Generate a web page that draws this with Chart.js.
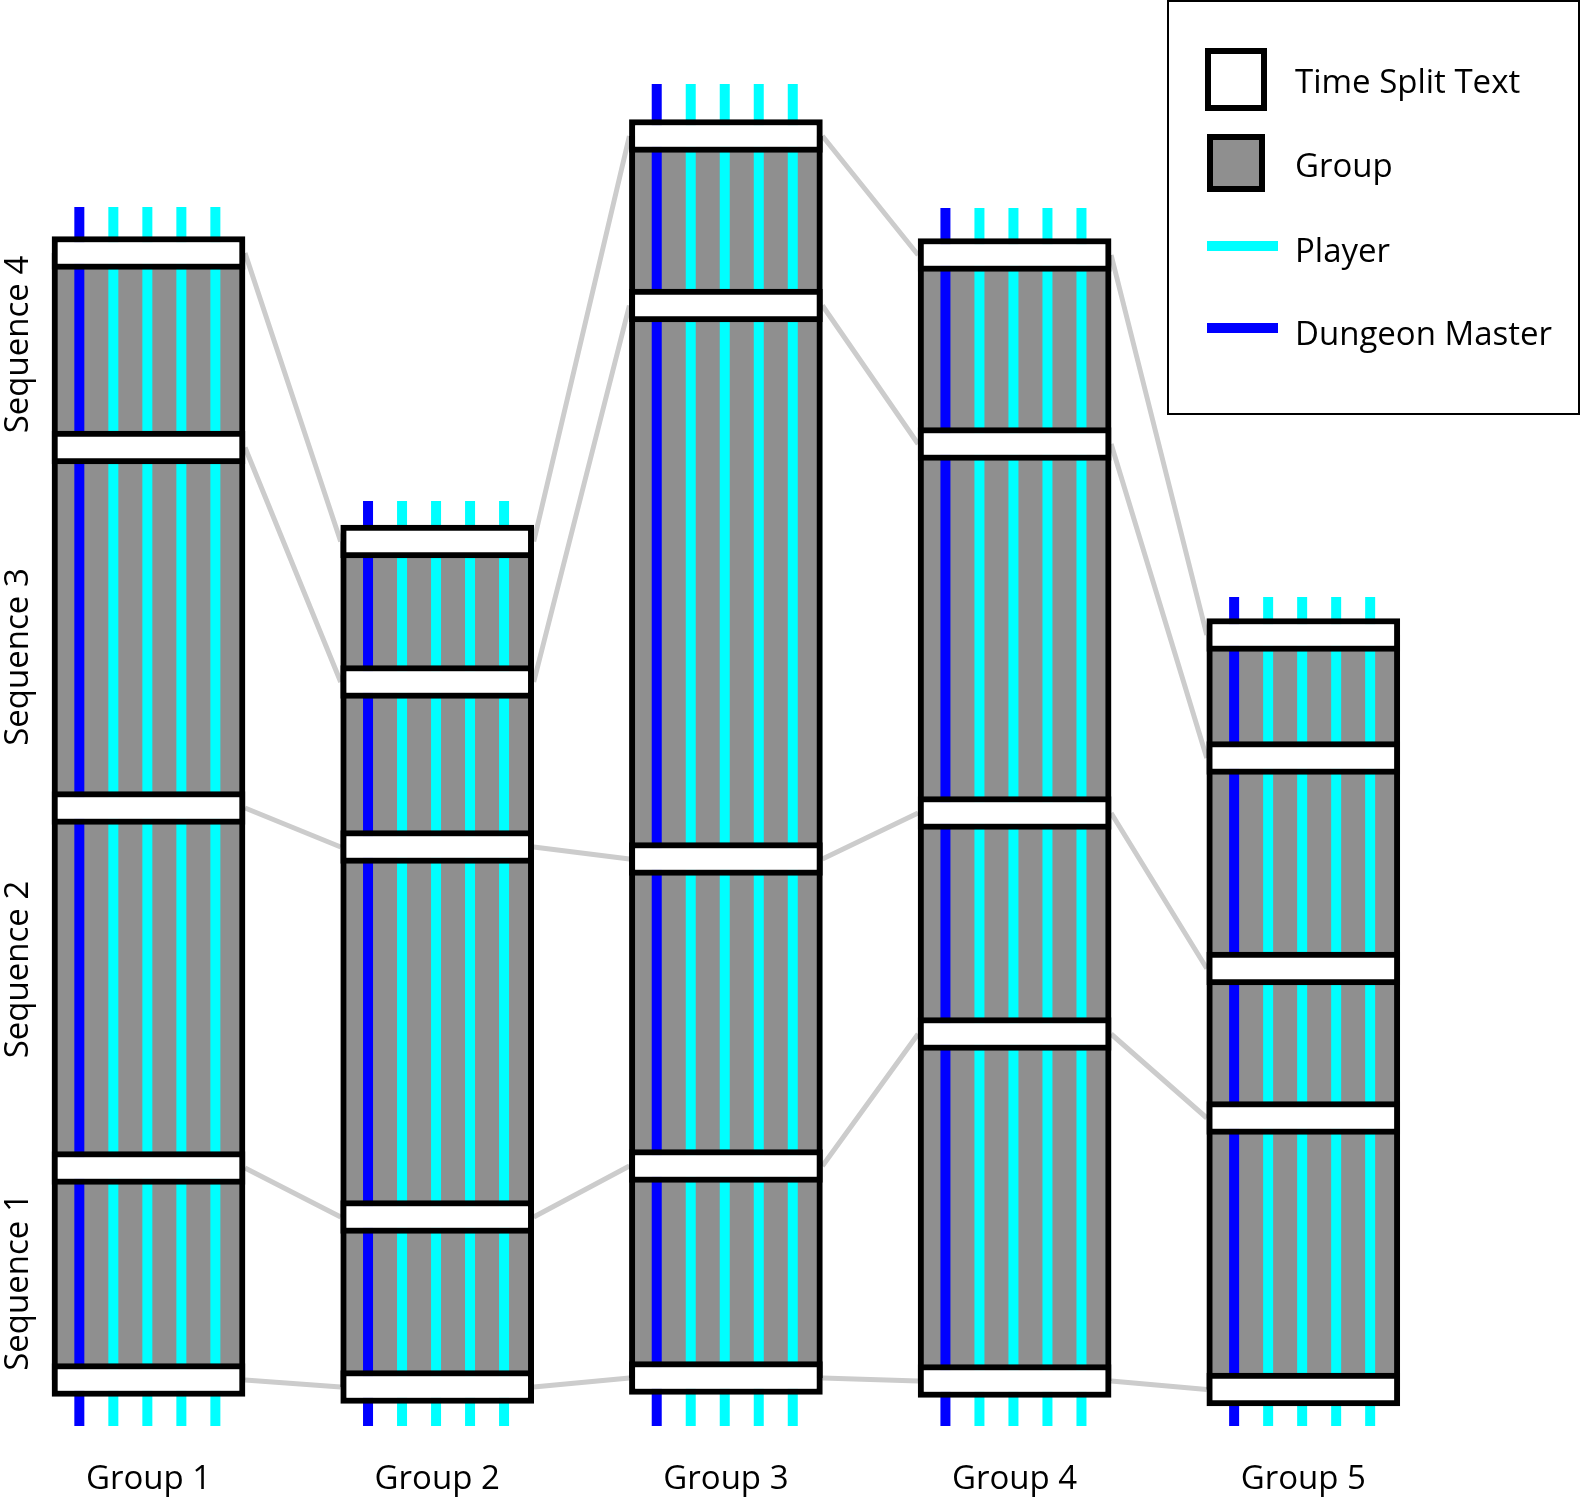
<!DOCTYPE html>
<html>
<head>
<meta charset="utf-8">
<title>Groups and sequences</title>
<script src="https://cdn.jsdelivr.net/npm/chart.js@4.4.1/dist/chart.umd.min.js"></script>
<style>
  html, body { margin: 0; padding: 0; background: #fff; }
  canvas { display: block; }
</style>
</head>
<body>
<canvas id="chart" width="1581" height="1499"></canvas>
<script>
const GROUPS = ['Group 1', 'Group 2', 'Group 3', 'Group 4', 'Group 5'];
const SEQUENCES = ['Sequence 1', 'Sequence 2', 'Sequence 3', 'Sequence 4'];

// time split marks per group, start -> end (minutes above the zero line)
const SPLITS_G1 = [9.2, 51.6, 123.6, 195.7, 234.6];
const SPLITS_G2 = [7.8, 41.8, 115.8, 148.8, 176.9];
const SPLITS_G3 = [9.6, 52.0, 113.4, 224.1, 258.0];
const SPLITS_G4 = [9.0, 78.4, 122.6, 196.4, 234.2];
const SPLITS_G5 = [7.3, 61.6, 91.5, 133.6, 158.2];
const SPLITS = [SPLITS_G1, SPLITS_G2, SPLITS_G3, SPLITS_G4, SPLITS_G5];

// player / DM tracks run from here down to TRACK_END
const TRACK_START = [243.8, 185.0, 268.4, 243.6, 165.8];
const TRACK_END = 0;
const PLAYER_LANES = [1, 2, 3, 4];
const DM_LANES = [0];

// layout / style
const X_MIN = 0.4856, X_MAX = 5.9619;
const Y_MIN = -14.6, Y_MAX = 285.2;
const COL_PX = 193;
const HALF_COL = 0.3343;
const LANE = 0.1178;
const LANE_SHIFT = -0.004;
const BOX_HALF = 3.3;
const GREY = '#8f8f8f';
const CYAN = '#00ffff';
const BLUE = '#0000ff';
const LINK = '#cccccc';
const FONT = '33px "Open Sans", sans-serif';

const groupData = [];
const boxData = [];
SPLITS.forEach((s, i) => {
  const x = i + 1;
  groupData.push({ x, y: [s[0], s[s.length - 1]] });
  s.forEach(v => boxData.push({ x, y: [v - BOX_HALF, v + BOX_HALF] }));
});

function trackPoints(lanes) {
  const pts = [];
  SPLITS.forEach((s, i) => {
    lanes.forEach(l => {
      const x = i + 1 + LANE_SHIFT + (l - 2) * LANE;
      pts.push({ x, y: TRACK_START[i] }, { x, y: TRACK_END }, { x, y: null });
    });
  });
  return pts;
}

// grey links between matching splits of neighbouring groups
const links = SPLITS_G1.map((_, k) => {
  const pts = [];
  for (let i = 0; i < SPLITS.length - 1; i++) {
    const x2 = i + 2 - HALF_COL;
    pts.push({ x: i + 1 + HALF_COL, y: SPLITS[i][k] }, { x: x2, y: SPLITS[i + 1][k] }, { x: x2, y: null });
  }
  return {
    type: 'line', label: 'link ' + (k + 1), data: pts,
    borderColor: LINK, borderWidth: 5, pointRadius: 0, order: 3
  };
});

const barStyle = {
  borderColor: '#000', borderWidth: 6, borderSkipped: false, grouped: false,
  categoryPercentage: 1, barPercentage: 1, maxBarThickness: COL_PX
};

const diagramText = {
  id: 'diagramText',
  afterDraw(chart) {
    const { ctx } = chart;
    const x = chart.scales.x;
    const byLabel = l => chart.data.datasets.find(d => d.label === l);
    ctx.save();
    ctx.fillStyle = '#000';
    ctx.font = FONT;
    ctx.textBaseline = 'alphabetic';

    // group names under the columns
    ctx.textAlign = 'center';
    GROUPS.forEach((g, i) => ctx.fillText(g, x.getPixelForValue(i + 1), 1489));

    // sequence names, rotated, down the left side
    SEQUENCES.forEach((s, i) => {
      ctx.save();
      ctx.translate(28, 1282 - i * 312.5);
      ctx.rotate(-Math.PI / 2);
      ctx.fillText(s, 0, 0);
      ctx.restore();
    });

    // legend
    ctx.strokeStyle = '#000';
    ctx.lineWidth = 2;
    ctx.strokeRect(1168, 1, 411, 413);

    const split = byLabel('Time Split Text');
    ctx.fillStyle = split.backgroundColor;
    ctx.fillRect(1205, 48, 62, 63);
    ctx.lineWidth = 6;
    ctx.strokeRect(1208, 51, 56, 57);

    const grp = byLabel('Group');
    ctx.fillStyle = grp.backgroundColor;
    ctx.fillRect(1207, 134, 58, 58);
    ctx.strokeRect(1210, 137, 52, 52);

    ctx.lineWidth = 10;
    ctx.strokeStyle = byLabel('Player').borderColor;
    ctx.beginPath(); ctx.moveTo(1207, 246); ctx.lineTo(1278, 246); ctx.stroke();
    ctx.strokeStyle = byLabel('Dungeon Master').borderColor;
    ctx.beginPath(); ctx.moveTo(1207, 328); ctx.lineTo(1278, 328); ctx.stroke();

    ctx.fillStyle = '#000';
    ctx.textAlign = 'left';
    ctx.fillText('Time Split Text', 1295, 93);
    ctx.fillText('Group', 1295, 177);
    ctx.fillText('Player', 1295, 262);
    ctx.fillText('Dungeon Master', 1295, 345);
    ctx.restore();
  }
};

new Chart(document.getElementById('chart'), {
  type: 'line',
  data: {
    datasets: [
      Object.assign({ type: 'bar', label: 'Time Split Text', data: boxData, backgroundColor: '#ffffff', order: 0 }, barStyle),
      { type: 'line', label: 'Dungeon Master', data: trackPoints(DM_LANES), borderColor: BLUE, borderWidth: 10, pointRadius: 0, order: 1 },
      { type: 'line', label: 'Player', data: trackPoints(PLAYER_LANES), borderColor: CYAN, borderWidth: 10, pointRadius: 0, order: 1 },
      Object.assign({ type: 'bar', label: 'Group', data: groupData, backgroundColor: GREY, order: 2 }, barStyle),
      ...links
    ]
  },
  options: {
    responsive: false,
    animation: false,
    events: [],
    layout: { padding: 0, autoPadding: false },
    plugins: { legend: { display: false }, tooltip: { enabled: false } },
    scales: {
      x: {
        type: 'linear', display: false, offset: false, min: X_MIN, max: X_MAX,
        afterBuildTicks: s => { s.ticks = GROUPS.map((_, i) => ({ value: i + 1 })); }
      },
      y: { type: 'linear', display: false, min: Y_MIN, max: Y_MAX }
    }
  },
  plugins: [diagramText]
});
</script>
</body>
</html>
